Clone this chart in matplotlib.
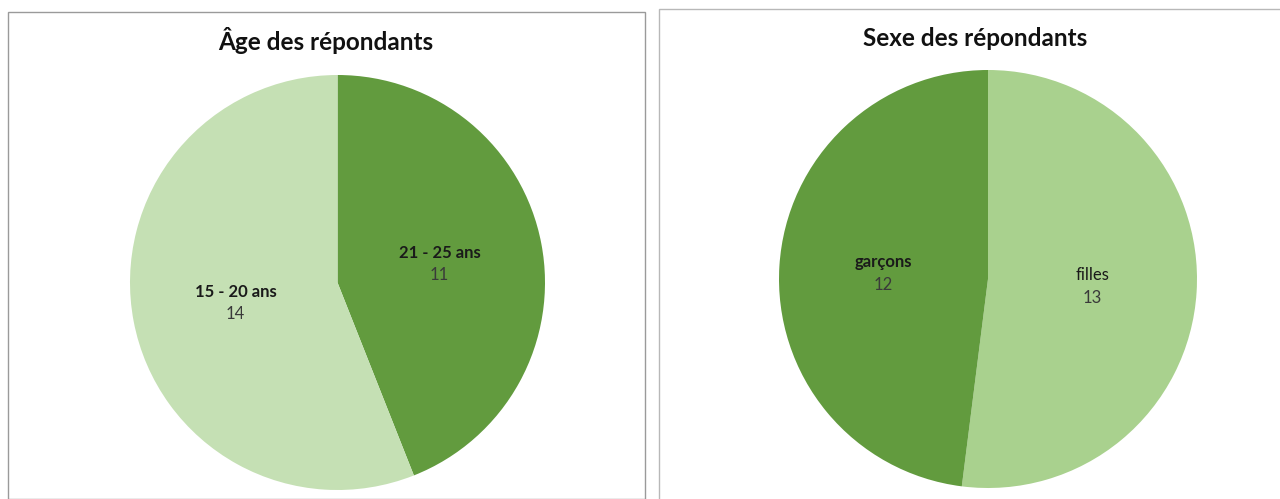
import matplotlib
matplotlib.use('Agg')
import numpy as np
import matplotlib.pyplot as plt
from matplotlib.patches import Rectangle

W, H, DPI = 1280, 499, 100

# ─── DATA ─────────────────────────────────────────────────────────────────────
age_labels = ['21 - 25 ans', '15 - 20 ans']
age_values = [11, 14]
sex_labels = ['filles', 'garçons']
sex_values = [13, 12]

DARK = '#629B3E'
LIGHT_AGE = '#C5E0B4'
LIGHT_SEX = '#A9D18E'

plt.rcParams['font.family'] = ['Lato', 'DejaVu Sans']

fig = plt.figure(figsize=(W / DPI, H / DPI), dpi=DPI)


def px_box(x0, y0, x1, y1):
    # pixel box (top-left origin) -> figure fraction rect
    return [x0 / W, 1 - y1 / H, (x1 - x0) / W, (y1 - y0) / H]


def draw_pie(box, values, labels, colors, bold):
    ax = fig.add_axes(box)
    wedges, _ = ax.pie(values, colors=colors, startangle=90, counterclock=False,
                       radius=1.0, wedgeprops=dict(linewidth=0))
    ax.set_xlim(-1, 1)
    ax.set_ylim(-1, 1)
    ax.set_aspect('equal')
    for w, lab, val, b in zip(wedges, labels, values, bold):
        ang = np.deg2rad((w.theta1 + w.theta2) / 2)
        x, y = 0.5 * np.cos(ang), 0.5 * np.sin(ang)
        ax.annotate(lab, (x, y), xytext=(0, 1.5), textcoords='offset points',
                    ha='center', va='bottom', fontsize=12,
                    fontweight='bold' if b else 'normal', color='#1a1a1a')
        ax.annotate(str(val), (x, y), xytext=(0, -3), textcoords='offset points',
                    ha='center', va='top', fontsize=12, color='#3a3a3a')
    return ax


# panel borders
fig.patches.append(Rectangle((8 / W, 0), (645 - 8) / W, 1 - 12 / H,
                             transform=fig.transFigure, fill=False,
                             edgecolor='#9a9a9a', linewidth=1.0))
fig.patches.append(Rectangle((659 / W, -0.01), (1300 - 659) / W, 1.01 - 9 / H,
                             transform=fig.transFigure, fill=False,
                             edgecolor='#b8b8b8', linewidth=1.0, clip_on=False))

draw_pie(px_box(130, 75, 545, 490), age_values, age_labels,
         [DARK, LIGHT_AGE], [True, True])
draw_pie(px_box(779, 70, 1197, 488), sex_values, sex_labels,
         [LIGHT_SEX, DARK], [False, True])

fig.text(326 / W, 1 - 40 / H, 'Âge des répondants', ha='center', va='center',
         fontsize=17.5, fontweight='bold', color='#111111')
fig.text(975 / W, 1 - 38 / H, 'Sexe des répondants', ha='center', va='center',
         fontsize=17.5, fontweight='bold', color='#111111')

fig.savefig('out.png', dpi=DPI)
